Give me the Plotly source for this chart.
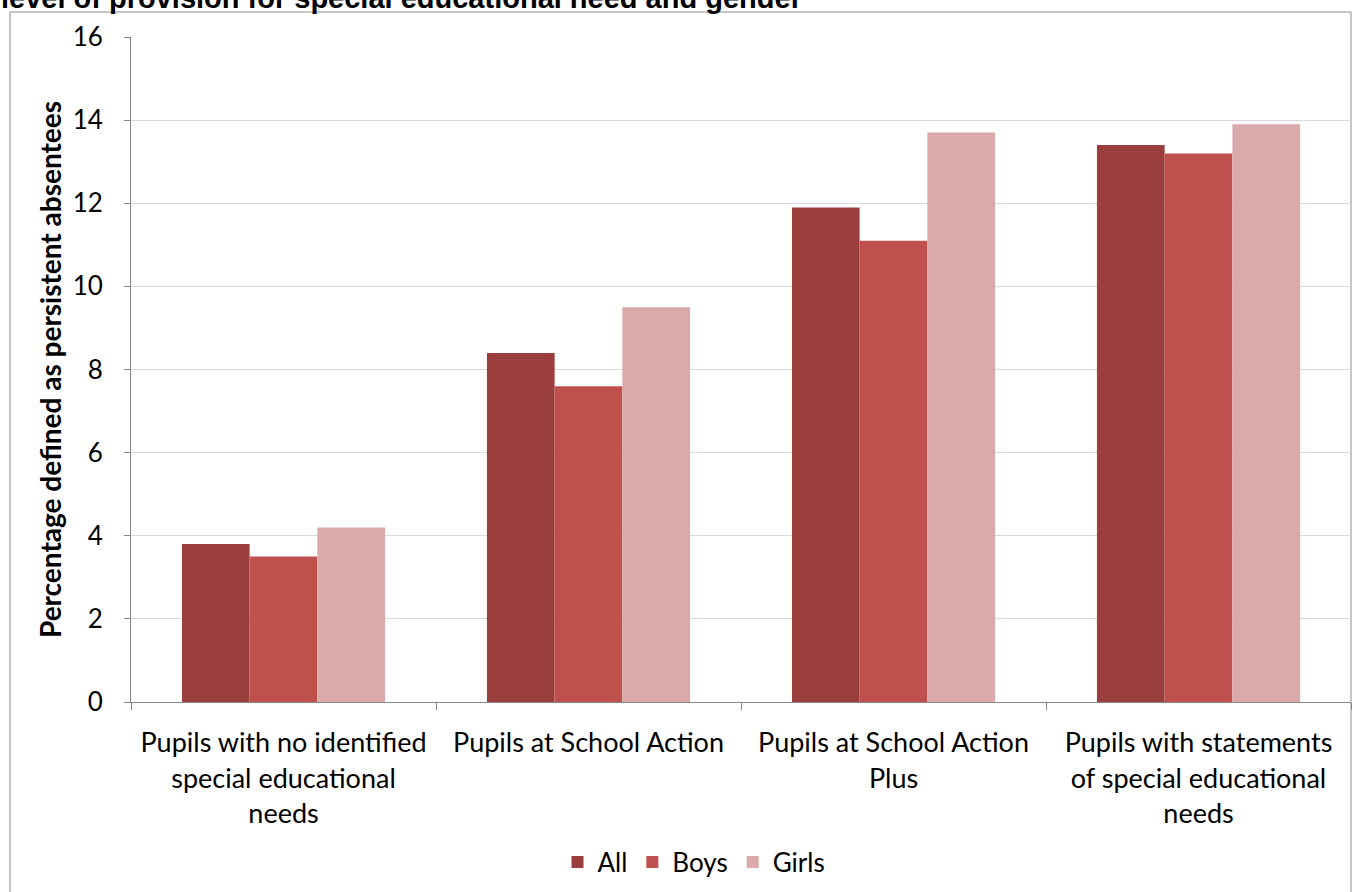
import plotly.graph_objects as go

categories = [
    "Pupils with no identified<br>special educational<br>needs",
    "Pupils at School Action",
    "Pupils at School Action<br>Plus",
    "Pupils with statements<br>of special educational<br>needs",
]
all_vals = [3.8, 8.4, 11.9, 13.4]
boys_vals = [3.5, 7.6, 11.1, 13.2]
girls_vals = [4.2, 9.5, 13.7, 13.9]
y_ticks = [0, 2, 4, 6, 8, 10, 12, 14, 16]

series = [("All", all_vals, "#9B3F3E"), ("Boys", boys_vals, "#C0504D"), ("Girls", girls_vals, "#D9AAA9")]

W, H = 1360, 892
L, R, T, B = 131, 9, 37, 190
pw = W - L - R
ph = H - T - B

fig = go.Figure()
for name, vals, col in series:
    fig.add_trace(go.Bar(x=categories, y=vals, name=name, marker=dict(color=col, line=dict(width=0))))

font_family = "Lato, 'Open Sans', sans-serif"

fig.update_layout(
    width=W, height=H,
    margin=dict(l=L, r=R, t=T, b=B, pad=0, autoexpand=False),
    paper_bgcolor="white", plot_bgcolor="white",
    barmode="group", bargap=0.334, bargroupgap=0,
    font=dict(family=font_family, size=26, color="#000000"),
    showlegend=True,
    legend=dict(orientation="h", x=(694 - L) / pw, xanchor="center", y=(702 - 862) / ph, yanchor="middle",
                font=dict(size=26), itemwidth=30, tracegroupgap=0),
    xaxis=dict(showline=True, linecolor="#878787", linewidth=1, ticks="outside", tickson="boundaries",
               ticklen=7, tickcolor="#878787", tickfont=dict(size=27), showgrid=False,
               ticklabelstandoff=17),
    yaxis=dict(range=[0, 16], tickvals=y_ticks, showline=True, linecolor="#878787", linewidth=1,
               ticks="outside", ticklen=6, tickcolor="#878787", gridcolor="#D9D9D9", gridwidth=1,
               tickfont=dict(size=26), ticklabelstandoff=16, zeroline=False,
               title=dict(text="<b>Percentage defined as persistent absentees</b>",
                          font=dict(size=28, family=font_family),
                          standoff=2)),
)

# outer frame of the chart
fig.add_shape(type="rect", xref="paper", yref="paper",
              x0=(10 - L) / pw, x1=(1351 - L) / pw, y0=(702 - 910) / ph, y1=1 + (T - 12) / ph,
              line=dict(color="#8C8C8C", width=1), fillcolor="rgba(0,0,0,0)", layer="below")

# partially visible heading at the top (cut off by the image edge, as in the original)
fig.add_annotation(text="<b>level of provision for special educational need and gender</b>",
                   xref="paper", yref="paper", x=(0 - L) / pw, xanchor="left",
                   y=1 + (T - 15) / ph, yanchor="bottom", showarrow=False, borderpad=0,
                   font=dict(family="'Liberation Sans', Arial, sans-serif", size=29, color="#000000"))

fig.write_html("out.html", config={"displayModeBar": False},
               post_script="document.body.style.margin='0';")
